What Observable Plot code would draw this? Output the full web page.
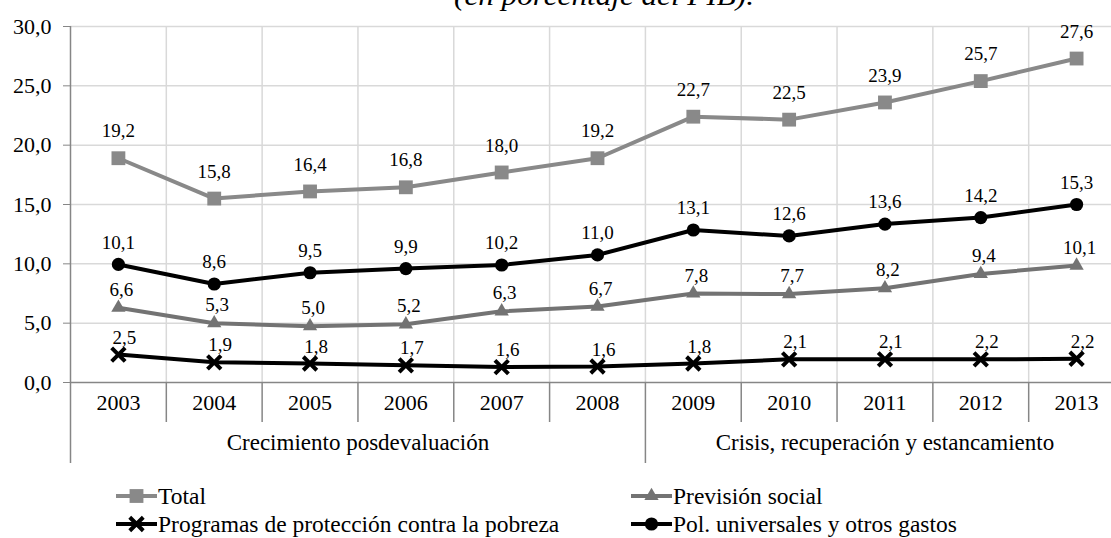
<!DOCTYPE html>
<html><head><meta charset="utf-8">
<script src="https://cdn.jsdelivr.net/npm/d3@7"></script>
<script src="https://cdn.jsdelivr.net/npm/@observablehq/plot@0.6"></script>
<style>
body{margin:0;background:#fff;overflow:hidden;font-family:"Liberation Serif","Tinos","Times New Roman","Times","DejaVu Serif",serif;}
#wrap{position:relative;width:1111px;height:538px;overflow:hidden;}
#chart{position:absolute;left:0;top:0;}
#title{position:absolute;left:0;top:0;}
.leg{position:absolute;display:flex;align-items:center;font-size:23.5px;line-height:24px;color:#000;white-space:nowrap;}
.leg svg{display:block;margin-right:1px;}
svg text{font-family:"Liberation Serif","Tinos","Times New Roman","Times","DejaVu Serif",serif;}
</style></head><body>
<div id="wrap"><div id="chart"></div><svg id="title" width="1111" height="20"></svg><div id="legend"></div></div>
<script>
const years = [2003, 2004, 2005, 2006, 2007, 2008, 2009, 2010, 2011, 2012, 2013];
const total = [18.9, 15.5, 16.1, 16.45, 17.7, 18.9, 22.4, 22.15, 23.6, 25.4, 27.3];
const totalLabels = ["19,2","15,8","16,4","16,8","18,0","19,2","22,7","22,5","23,9","25,7","27,6"];
const prevision = [6.3, 5.0, 4.75, 4.9, 6.0, 6.4, 7.5, 7.45, 7.95, 9.15, 9.85];
const previsionLabels = ["6,6","5,3","5,0","5,2","6,3","6,7","7,8","7,7","8,2","9,4","10,1"];
const programas = [2.35, 1.7, 1.6, 1.45, 1.3, 1.35, 1.6, 1.95, 1.95, 1.95, 2.0];
const programasLabels = ["2,5","1,9","1,8","1,7","1,6","1,6","1,8","2,1","2,1","2,2","2,2"];
const pol = [9.95, 8.3, 9.25, 9.6, 9.9, 10.75, 12.85, 12.35, 13.35, 13.9, 15.0];
const polLabels = ["10,1","8,6","9,5","9,9","10,2","11,0","13,1","12,6","13,6","14,2","15,3"];
const yTicks = [0, 5, 10, 15, 20, 25, 30];
const groups = [
  {name: "Crecimiento posdevaluación", from: 2003, to: 2008},
  {name: "Crisis, recuperación y estancamiento", from: 2009, to: 2013}
];
const titleText = "(en porcentaje del PIB).";

const FONT = "'Liberation Serif', 'Tinos', 'Times New Roman', 'Times', 'DejaVu Serif', serif";

const series = [
  {name: "Total", values: total, labels: totalLabels, color: "#898989", symbol: "square", r: 7.8, dy: -27, dx: 0},
  {name: "Previsión social", values: prevision, labels: previsionLabels, color: "#737373", symbol: "triangle", r: 5.3, dy: -18, dx: 3},
  {name: "Programas de protección contra la pobreza", values: programas, labels: programasLabels, color: "#000000", symbol: "times", r: 6.2, dy: -17, dx: 6},
  {name: "Pol. universales y otros gastos", values: pol, labels: polLabels, color: "#000000", symbol: "circle", r: 6.6, dy: -22, dx: 0}
];

const rows = series.map(s => years.map((y, i) => ({year: y, value: s.values[i], label: s.labels[i], series: s.name})));
const bounds = years.slice(0, -1).map(y => y + 0.5);
const groupBounds = groups.slice(1).map(g => g.from - 0.5);
const innerBounds = bounds.filter(b => !groupBounds.includes(b));
const first = years[0] - 0.5;
const fmt = d => d.toFixed(1).replace(".", ",");

const W = 1111, H = 538, plotTop = 26, axisY0 = 382;
const frameH = axisY0 - plotTop;

const marks = [
  Plot.ruleY(yTicks.filter(t => t > 0), {stroke: "#d9d9d9", strokeWidth: 1.5}),
  Plot.ruleX(bounds, {y1: 0, y2: 30, stroke: "#d9d9d9", strokeWidth: 1.5}),
  Plot.ruleX(innerBounds, {stroke: "#868686", strokeWidth: 1.5, insetTop: frameH, insetBottom: -40}),
  Plot.ruleX(groupBounds, {stroke: "#868686", strokeWidth: 1.5, insetTop: frameH, insetBottom: -81}),
  Plot.ruleX([first], {stroke: "#868686", strokeWidth: 1.5, insetBottom: -81}),
  Plot.ruleY([0], {stroke: "#868686", strokeWidth: 1.5}),
  Plot.axisY({ticks: yTicks, tickSize: 7, tickPadding: 12, tickFormat: fmt, stroke: "#868686", fill: "#000", fontSize: 22, fontFamily: FONT, label: null}),
  Plot.text(years, {x: d => d, frameAnchor: "bottom", dy: 27, text: d => String(d), fontSize: 22, fontFamily: FONT, fill: "#000"}),
  Plot.text(groups, {x: g => (g.from + g.to) / 2, frameAnchor: "bottom", dy: 67, text: g => g.name, fontSize: 23, fontFamily: FONT, fill: "#000"})
];
series.forEach((s, k) => {
  marks.push(Plot.line(rows[k], {x: "year", y: "value", stroke: s.color, strokeWidth: 4}));
  if (s.symbol === "times") {
    marks.push(Plot.dot(rows[k], {x: "year", y: "value", symbol: "times", r: s.r, stroke: s.color, strokeWidth: 4}));
  } else {
    marks.push(Plot.dot(rows[k], {x: "year", y: "value", symbol: s.symbol, r: s.r, fill: s.color, stroke: "none"}));
  }
});
series.forEach((s, k) => {
  marks.push(Plot.text(rows[k], {x: "year", y: "value", text: "label", dy: s.dy, dx: s.dx, fontSize: 19, fontFamily: FONT, fill: "#000"}));
});

const chart = Plot.plot({
  width: W, height: H,
  marginTop: plotTop, marginBottom: H - axisY0, marginLeft: 70, marginRight: 0,
  style: {fontFamily: FONT, background: "white", color: "#000", overflow: "visible"},
  x: {domain: [years[0] - 0.5, years[years.length - 1] + 0.5], range: [70, 1124], axis: null},
  y: {domain: [0, 30], axis: null},
  marks
});
document.getElementById("chart").appendChild(chart);

// cropped title (only its lower edge is visible in the reference)
const tsvg = d3.select("#title");
tsvg.append("text").attr("x", 604).attr("y", 5).attr("text-anchor", "middle")
  .attr("font-style", "italic").attr("font-size", 28)
  .attr("font-family", FONT).attr("textLength", 300).attr("lengthAdjust", "spacingAndGlyphs")
  .text(titleText);

// legend
const legPos = [[116, 484], [631, 484], [116, 512], [631, 512]];
const leg = d3.select("#legend");
series.forEach((s, k) => {
  const item = leg.append("div").attr("class", "leg").style("left", legPos[k][0] + "px").style("top", legPos[k][1] + "px");
  const sv = item.append("svg").attr("width", 41).attr("height", 20);
  sv.append("line").attr("x1", 0).attr("x2", 41).attr("y1", 10).attr("y2", 10).attr("stroke", s.color).attr("stroke-width", 4);
  const sym = {square: d3.symbolSquare, triangle: d3.symbolTriangle, circle: d3.symbolCircle, times: d3.symbolTimes}[s.symbol];
  const p = sv.append("path").attr("transform", "translate(20.5,10)").attr("d", d3.symbol(sym, s.r * s.r * Math.PI)());
  if (s.symbol === "times") p.attr("fill", "none").attr("stroke", s.color).attr("stroke-width", 4);
  else p.attr("fill", s.color);
  item.append("span").text(s.name);
});
</script>
</body></html>
